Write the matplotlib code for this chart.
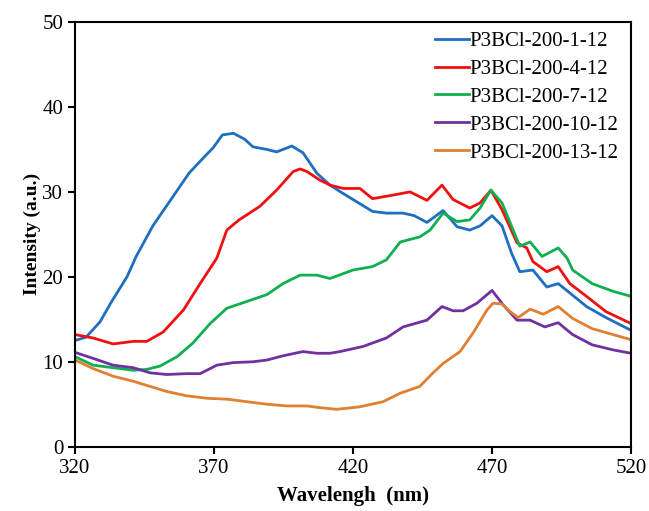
import matplotlib
matplotlib.use("Agg")
import matplotlib.pyplot as plt

# values (wavelength nm, intensity a.u.)
wl_1 = [320, 324, 329, 333, 338.7, 342, 348, 356.4, 361, 365, 369.7, 373, 377, 381, 384,
        389, 392.5, 398, 402, 407, 411.7, 416, 420, 427, 432, 438, 442, 446.6, 452.4,
        457.4, 462, 465.7, 470, 473.6, 477, 480, 484.7, 489.7, 493.8, 498, 504, 511, 520]
int_1 = [12.5, 12.9, 14.7, 17.0, 20.0, 22.4, 26.0, 30.0, 32.2, 33.6, 35.2, 36.7, 36.9, 36.2, 35.3,
         35.0, 34.7, 35.4, 34.6, 32.2, 30.8, 29.9, 29.1, 27.7, 27.5, 27.5, 27.2, 26.4, 27.8,
         25.9, 25.5, 26.0, 27.2, 26.0, 22.8, 20.6, 20.8, 18.8, 19.2, 18.1, 16.5, 15.2, 13.7]

wl_4 = [320, 326.5, 333.7, 341, 345.8, 351.7, 359, 365, 371, 374.6, 379, 386.5, 392.5,
        398.5, 401, 403.4, 408, 411.7, 416.5, 422.5, 427, 434, 440.5, 446.6, 452, 456, 462,
        465.7, 469.6, 473.6, 479, 482.5, 484.7, 489.7, 493.8, 498, 504, 511, 520]
int_4 = [13.2, 12.8, 12.1, 12.4, 12.4, 13.5, 16.1, 19.2, 22.2, 25.5, 26.7, 28.3, 30.2,
         32.4, 32.7, 32.4, 31.4, 30.8, 30.4, 30.4, 29.2, 29.6, 30.0, 29.0, 30.8, 29.1, 28.1,
         28.7, 30.2, 27.9, 24.0, 23.4, 21.8, 20.6, 21.2, 19.2, 17.7, 15.9, 14.5]

wl_7 = [320, 326.5, 333.7, 341, 345.8, 350.6, 356.7, 362.4, 368.6, 374.6, 381.8, 389,
        394.8, 401, 407, 411.7, 420, 427, 432, 437, 444, 447.7, 452.4, 457.4, 462, 465.7,
        469.6, 473.6, 477.6, 480, 483.7, 488, 493.8, 497, 499, 506, 513.5, 520]
int_7 = [10.6, 9.6, 9.3, 9.0, 9.1, 9.5, 10.6, 12.2, 14.5, 16.3, 17.1, 17.9,
         19.2, 20.2, 20.2, 19.8, 20.8, 21.2, 22.0, 24.1, 24.7, 25.5, 27.5, 26.5, 26.7, 28.1,
         30.2, 28.7, 25.5, 23.6, 24.1, 22.4, 23.4, 22.2, 20.8, 19.2, 18.3, 17.7]

wl_10 = [320, 326.5, 333.7, 341, 347, 353, 360, 365, 371, 376.9, 384, 389, 394.8, 402,
         407, 411.7, 415.3, 423.6, 432, 438, 446.6, 452, 456, 459.6, 464.6, 470, 474, 479,
         483.7, 489, 493.8, 499, 506, 513.5, 520]
int_10 = [11.1, 10.4, 9.6, 9.3, 8.7, 8.5, 8.6, 8.6, 9.6, 9.9, 10.0, 10.2, 10.7, 11.2,
          11.0, 11.0, 11.2, 11.8, 12.8, 14.1, 14.9, 16.5, 16.0, 16.0, 16.9, 18.4, 16.7, 14.9,
          14.9, 14.1, 14.6, 13.2, 12.0, 11.4, 11.0]

wl_13 = [320, 326.5, 333.7, 341, 347, 353, 360, 367.5, 374.6, 381.8, 389, 396.3, 403.4,
         408, 414.2, 422.5, 430.8, 437, 444, 448.8, 452.4, 458.5, 463.2, 468.2, 470.4, 473.6,
         476.5, 479.4, 483.7, 488.4, 493.8, 499, 506, 513.5, 520]
int_13 = [10.2, 9.2, 8.3, 7.7, 7.1, 6.5, 6.0, 5.7, 5.6, 5.3, 5.0, 4.8, 4.8,
          4.6, 4.4, 4.7, 5.3, 6.3, 7.1, 8.7, 9.8, 11.2, 13.4, 16.1, 16.9, 16.8,
          15.9, 15.2, 16.2, 15.6, 16.5, 15.1, 13.9, 13.2, 12.6]

labels = ["P3BCl-200-1-12", "P3BCl-200-4-12", "P3BCl-200-7-12",
          "P3BCl-200-10-12", "P3BCl-200-13-12"]
colors = ["#1f6fc0", "#f01010", "#10b050", "#7030a0", "#e08030"]
x_ticks = [320, 370, 420, 470, 520]
y_ticks = [0, 10, 20, 30, 40, 50]

plt.rcParams["font.family"] = ["Liberation Serif", "DejaVu Serif"]

fig = plt.figure(figsize=(6.49, 5.11), dpi=100)
ax = fig.add_axes([0.1156, 0.1258, 0.8567, 0.8312])

series = [(wl_1, int_1), (wl_4, int_4), (wl_7, int_7), (wl_10, int_10), (wl_13, int_13)]
for (x, y), lab, col in zip(series, labels, colors):
    ax.plot(x, y, color=col, lw=2, label=lab)

ax.set_xlim(320, 520)
ax.set_ylim(0, 50)
ax.set_xticks(x_ticks)
ax.set_yticks(y_ticks)
ax.tick_params(direction="out", length=5, width=1.5, labelsize=15, colors="black")
for s in ax.spines.values():
    s.set_linewidth(1.5)

ax.set_xlabel("Wavelengh  (nm)", fontsize=15, fontweight="bold", labelpad=6)
ax.set_ylabel("Intensity (a.u.)", fontsize=14, fontweight="bold", labelpad=1)

ax.legend(loc="upper right", frameon=False, fontsize=15, handlelength=1.6,
          handletextpad=0.05, labelspacing=0.4, borderaxespad=0.05,
          bbox_to_anchor=(0.995, 1.0))

fig.savefig("out.png", dpi=100)
